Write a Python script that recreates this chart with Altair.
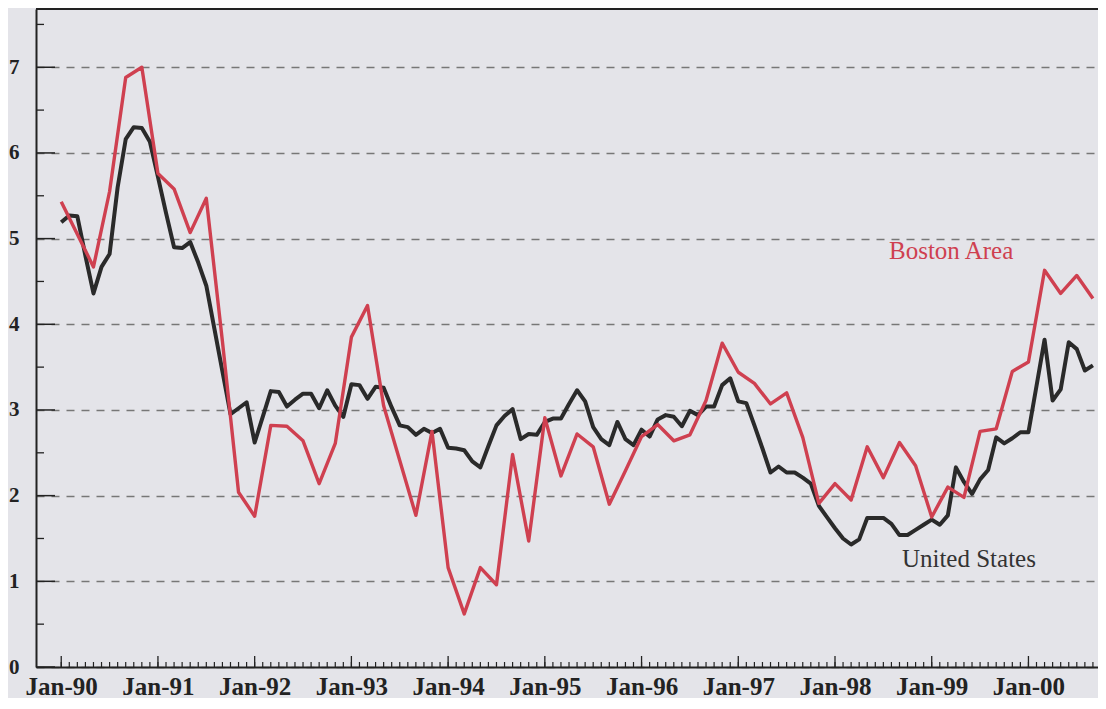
import altair as alt
import pandas as pd

# ---- data ----
tick_labels = ["Jan-90", "Jan-91", "Jan-92", "Jan-93", "Jan-94", "Jan-95",
               "Jan-96", "Jan-97", "Jan-98", "Jan-99", "Jan-00"]

# United States, monthly, Jan-90 .. Sep-00 (percent)
us_cpi = [
    5.19, 5.27, 5.26, 4.80, 4.36, 4.67, 4.82, 5.60, 6.16, 6.30,
    6.29, 6.13, 5.72, 5.30, 4.90, 4.89, 4.96, 4.72, 4.45, 3.95,
    3.45, 2.95, 3.02, 3.09, 2.62, 2.92, 3.22, 3.21, 3.04, 3.12,
    3.19, 3.19, 3.02, 3.23, 3.05, 2.92, 3.30, 3.29, 3.13, 3.27,
    3.26, 3.03, 2.82, 2.80, 2.71, 2.78, 2.73, 2.78, 2.56, 2.55,
    2.53, 2.40, 2.33, 2.58, 2.82, 2.93, 3.01, 2.66, 2.72, 2.71,
    2.86, 2.90, 2.90, 3.07, 3.23, 3.10, 2.80, 2.66, 2.59, 2.86,
    2.66, 2.59, 2.77, 2.69, 2.89, 2.94, 2.92, 2.81, 2.99, 2.94,
    3.04, 3.04, 3.29, 3.37, 3.10, 3.08, 2.82, 2.55, 2.27, 2.34,
    2.27, 2.27, 2.21, 2.14, 1.88, 1.75, 1.62, 1.50, 1.43, 1.49,
    1.74, 1.74, 1.74, 1.67, 1.54, 1.54, 1.60, 1.66, 1.72, 1.66,
    1.77, 2.33, 2.16, 2.02, 2.19, 2.30, 2.68, 2.61, 2.67, 2.74,
    2.74, 3.28, 3.82, 3.11, 3.24, 3.79, 3.71, 3.46, 3.52,
]

# Boston Area, bimonthly (Jan, Mar, May, ...), Jan-90 .. Sep-00 (percent)
boston_cpi = [
    5.43, 5.05, 4.67, 5.55, 6.88, 7.00, 5.76, 5.58, 5.07, 5.47,
    3.80, 2.04, 1.76, 2.82, 2.81, 2.64, 2.14, 2.61, 3.85, 4.22,
    3.05, 2.41, 1.77, 2.75, 1.16, 0.62, 1.16, 0.96, 2.48, 1.47,
    2.91, 2.23, 2.72, 2.57, 1.90, 2.29, 2.69, 2.83, 2.64, 2.71,
    3.11, 3.78, 3.44, 3.31, 3.07, 3.20, 2.68, 1.91, 2.14, 1.95,
    2.57, 2.21, 2.62, 2.35, 1.75, 2.10, 1.98, 2.75, 2.78, 3.45,
    3.56, 4.63, 4.36, 4.57, 4.30,
]

y_major = [0, 1, 2, 3, 4, 5, 6, 7]
y_minor = [0.5, 1.5, 2.5, 3.5, 4.5, 5.5, 6.5, 7.5]

# ---- tables built from the lists ----
us_df = pd.DataFrame({"m": list(range(len(us_cpi))), "v": us_cpi})
bos_df = pd.DataFrame({"m": list(range(0, 2 * len(boston_cpi), 2)), "v": boston_cpi})
month_df = pd.DataFrame({"m": list(range(len(us_cpi)))})
jan_df = pd.DataFrame({"m": [12 * i for i in range(len(tick_labels))]})
ymaj_df = pd.DataFrame({"v": y_major})
ymin_df = pd.DataFrame({"v": y_minor})
lab_df = pd.DataFrame({
    "m": [102.7, 104.3],
    "v": [4.76, 1.17],
    "t": ["Boston Area", "United States"],
    "s": ["Boston Area", "United States"],
})

# ---- styling ----
W, H = 1062, 658
RED = "#cf4050"
BLACK = "#2a2a2a"
AXIS = "#222222"
BG = "#e4e4e9"
SERIF = "Liberation Serif"

xs = alt.Scale(domain=[-3.13, 128.63], nice=False, zero=False)
ys = alt.Scale(domain=[0, 7.68], nice=False, zero=True)

label_expr = "[" + ",".join("'%s'" % t for t in tick_labels) + "][round(datum.value/12)]"

x_axis = alt.Axis(values=[12 * i for i in range(len(tick_labels))], labelExpr=label_expr,
                  ticks=False, tickSize=0, grid=False, domainColor=AXIS, domainWidth=2,
                  labelFont=SERIF, labelFontWeight="bold", labelFontSize=25,
                  labelColor=AXIS, labelPadding=7, title=None, labelFlush=False)
y_axis = alt.Axis(values=y_major, ticks=False, tickSize=0, grid=True, gridDash=[8, 7],
                  gridColor="#777777", gridWidth=1.4, domainColor=AXIS, domainWidth=2,
                  labelFont=SERIF, labelFontWeight="bold", labelFontSize=21,
                  labelColor=AXIS, labelPadding=17, title=None, format="d")


def X(field="m"):
    return alt.X(field + ":Q", scale=xs, axis=x_axis)


def Y(field="v"):
    return alt.Y(field + ":Q", scale=ys, axis=y_axis)


us_line = alt.Chart(us_df).mark_line(color=BLACK, strokeWidth=4, strokeJoin="round").encode(
    x=X(), y=Y())
bos_line = alt.Chart(bos_df).mark_line(color=RED, strokeWidth=3.4, strokeJoin="round").encode(
    x=X(), y=Y())

ymaj = alt.Chart(ymaj_df).mark_rule(color=AXIS, strokeWidth=1.5).encode(
    y=Y(), x=alt.value(0), x2=alt.value(19))
ymin = alt.Chart(ymin_df).mark_rule(color=AXIS, strokeWidth=1.3).encode(
    y=Y(), x=alt.value(0), x2=alt.value(8))
xmin = alt.Chart(month_df).mark_rule(color=AXIS, strokeWidth=1.2).encode(
    x=X(), y=alt.value(H), y2=alt.value(H - 5))
xmaj = alt.Chart(jan_df).mark_rule(color=AXIS, strokeWidth=1.3).encode(
    x=X(), y=alt.value(H), y2=alt.value(H - 11))
top = alt.Chart(jan_df.head(1)).mark_rule(color=AXIS, strokeWidth=2).encode(
    x=alt.value(0), x2=alt.value(W), y=alt.value(0))

labels = alt.Chart(lab_df).mark_text(align="left", baseline="alphabetic", font=SERIF,
                                     fontSize=25).encode(
    x=X(), y=Y(),
    text="t:N",
    color=alt.Color("s:N", scale=alt.Scale(domain=["Boston Area", "United States"],
                                           range=[RED, "#333333"]), legend=None),
)

chart = alt.layer(us_line, bos_line, ymaj, ymin, xmin, xmaj, top, labels).properties(
    width=W, height=H,
    autosize=alt.AutoSizeParams(type="none"),
    padding={"left": 28, "top": 1, "right": 0, "bottom": 31},
).configure(background=BG).configure_view(stroke=None, fill=BG)

chart.save("out.html", embed_options={"renderer": "svg", "actions": False})
